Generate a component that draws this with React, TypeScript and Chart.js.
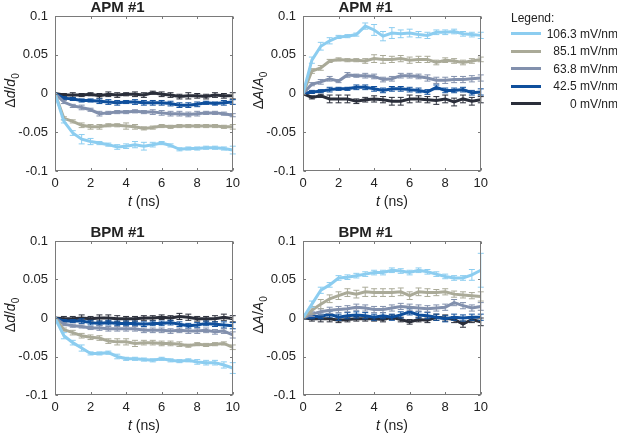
import React, { useEffect, useRef } from 'react';
import { Chart, registerables } from 'chart.js';

Chart.register(...registerables);

// ---------- data ----------
const timeNs = [0, 0.5, 1, 1.5, 2, 2.5, 3, 3.5, 4, 4.5, 5, 5.5, 6, 6.5, 7, 7.5, 8, 8.5, 9, 9.5, 10];

const seriesLabels = ['106.3 mV/nm', '85.1 mV/nm', '63.8 mV/nm', '42.5 mV/nm', '0 mV/nm'];
const seriesColors = ['#8ccdf0', '#aaaa98', '#8290ad', '#0f4f9c', '#2a2e3a'];

const xTicks = [0, 2, 4, 6, 8, 10];
const xTickLabels = ['0', '2', '4', '6', '8', '10'];
const yTicks = [-0.1, -0.05, 0, 0.05, 0.1];
const yTickLabels = ['-0.1', '-0.05', '0', '0.05', '0.1'];

const panelTitles = ['APM #1', 'APM #1', 'BPM #1', 'BPM #1'];

// APM #1, Δd/d0
const apmD106 = [0, -0.036, -0.051, -0.059, -0.062, -0.064, -0.066, -0.069, -0.068, -0.066, -0.068, -0.066, -0.064, -0.067, -0.072, -0.071, -0.071, -0.070, -0.070, -0.071, -0.073];
const apmD85 = [0, -0.032, -0.036, -0.041, -0.043, -0.043, -0.041, -0.041, -0.042, -0.043, -0.045, -0.044, -0.042, -0.043, -0.042, -0.042, -0.042, -0.042, -0.042, -0.043, -0.043];
const apmD64 = [0, -0.011, -0.016, -0.018, -0.021, -0.026, -0.025, -0.024, -0.024, -0.023, -0.024, -0.024, -0.025, -0.026, -0.026, -0.027, -0.026, -0.025, -0.025, -0.026, -0.028];
const apmD42 = [0, -0.006, -0.007, -0.009, -0.009, -0.010, -0.011, -0.012, -0.011, -0.011, -0.012, -0.012, -0.012, -0.013, -0.015, -0.015, -0.014, -0.012, -0.013, -0.012, -0.011];
const apmD0 = [0, -0.002, -0.002, -0.002, -0.001, -0.003, -0.001, -0.002, -0.001, -0.001, -0.002, 0.001, -0.001, -0.002, -0.004, -0.003, -0.003, -0.004, -0.002, -0.003, -0.003];

const apmDErr106 = [0, 0.002, 0.003, 0.006, 0.004, 0.002, 0.002, 0.003, 0.003, 0.004, 0.005, 0.003, 0.002, 0.002, 0.002, 0.002, 0.002, 0.002, 0.002, 0.002, 0.005];
const apmDErr85 = [0, 0.002, 0.002, 0.003, 0.003, 0.003, 0.002, 0.002, 0.004, 0.003, 0.002, 0.002, 0.002, 0.002, 0.002, 0.002, 0.002, 0.002, 0.002, 0.002, 0.003];
const apmDErr64 = [0, 0.002, 0.002, 0.003, 0.002, 0.003, 0.002, 0.002, 0.002, 0.002, 0.002, 0.003, 0.003, 0.003, 0.003, 0.003, 0.003, 0.002, 0.002, 0.002, 0.002];
const apmDErr42 = [0, 0.002, 0.002, 0.002, 0.002, 0.003, 0.003, 0.003, 0.002, 0.003, 0.003, 0.003, 0.003, 0.003, 0.003, 0.003, 0.003, 0.002, 0.002, 0.003, 0.003];
const apmDErr0 = [0, 0.002, 0.003, 0.002, 0.002, 0.003, 0.003, 0.003, 0.002, 0.003, 0.003, 0.002, 0.003, 0.003, 0.003, 0.004, 0.003, 0.003, 0.003, 0.003, 0.004];

// APM #1, ΔA/A0
const apmA106 = [0, 0.043, 0.061, 0.068, 0.073, 0.074, 0.076, 0.087, 0.082, 0.074, 0.078, 0.077, 0.078, 0.076, 0.075, 0.079, 0.079, 0.080, 0.077, 0.076, 0.075];
const apmA85 = [0, 0.029, 0.033, 0.042, 0.044, 0.043, 0.043, 0.042, 0.045, 0.044, 0.044, 0.045, 0.043, 0.044, 0.044, 0.040, 0.043, 0.042, 0.040, 0.042, 0.044];
const apmA64 = [0, 0.012, 0.015, 0.019, 0.016, 0.024, 0.023, 0.023, 0.022, 0.018, 0.019, 0.023, 0.023, 0.022, 0.020, 0.017, 0.017, 0.018, 0.018, 0.019, 0.020];
const apmA42 = [0, 0.002, 0.003, 0.005, 0.006, 0.006, 0.008, 0.008, 0.006, 0.004, 0.006, 0.006, 0.005, 0.004, 0.002, 0.008, 0.004, 0.004, 0.005, 0.001, 0.002];
const apmA0 = [0, -0.005, -0.003, -0.007, -0.007, -0.007, -0.010, -0.008, -0.007, -0.008, -0.010, -0.010, -0.007, -0.007, -0.008, -0.009, -0.007, -0.011, -0.007, -0.010, -0.008];

const apmAErr106 = [0, 0.004, 0.005, 0.004, 0.002, 0.002, 0.002, 0.004, 0.007, 0.006, 0.007, 0.005, 0.005, 0.004, 0.004, 0.003, 0.003, 0.003, 0.003, 0.003, 0.004];
const apmAErr85 = [0, 0.003, 0.003, 0.002, 0.002, 0.002, 0.002, 0.003, 0.005, 0.005, 0.004, 0.004, 0.004, 0.004, 0.004, 0.003, 0.003, 0.003, 0.003, 0.003, 0.003];
const apmAErr64 = [0, 0.002, 0.003, 0.003, 0.002, 0.003, 0.002, 0.003, 0.003, 0.003, 0.003, 0.003, 0.003, 0.003, 0.004, 0.004, 0.004, 0.004, 0.004, 0.004, 0.004];
const apmAErr42 = [0, 0.002, 0.002, 0.003, 0.002, 0.002, 0.003, 0.003, 0.003, 0.003, 0.003, 0.003, 0.003, 0.003, 0.003, 0.003, 0.003, 0.003, 0.003, 0.003, 0.004];
const apmAErr0 = [0, 0.002, 0.002, 0.005, 0.005, 0.005, 0.003, 0.003, 0.004, 0.004, 0.005, 0.005, 0.005, 0.004, 0.004, 0.005, 0.005, 0.005, 0.005, 0.005, 0.004];

// BPM #1, Δd/d0
const bpmD106 = [0, -0.023, -0.032, -0.039, -0.046, -0.046, -0.045, -0.050, -0.053, -0.053, -0.054, -0.055, -0.053, -0.055, -0.056, -0.055, -0.057, -0.058, -0.058, -0.061, -0.065];
const bpmD85 = [0, -0.015, -0.019, -0.023, -0.025, -0.026, -0.030, -0.031, -0.031, -0.033, -0.032, -0.032, -0.033, -0.033, -0.034, -0.036, -0.034, -0.035, -0.034, -0.033, -0.038];
const bpmD64 = [0, -0.008, -0.010, -0.011, -0.013, -0.013, -0.014, -0.014, -0.014, -0.014, -0.016, -0.016, -0.016, -0.017, -0.016, -0.017, -0.017, -0.016, -0.018, -0.017, -0.022];
const bpmD42 = [0, -0.004, -0.004, -0.004, -0.006, -0.007, -0.006, -0.007, -0.007, -0.007, -0.008, -0.007, -0.007, -0.006, -0.008, -0.010, -0.009, -0.007, -0.008, -0.009, -0.010];
const bpmD0 = [0, -0.001, -0.001, 0, -0.001, 0, 0, -0.001, -0.001, -0.001, 0, 0, 0.001, 0, 0.002, 0.001, -0.001, -0.001, -0.001, 0.001, -0.001];

const bpmDErr106 = [0, 0.004, 0.003, 0.004, 0.002, 0.002, 0.002, 0.003, 0.002, 0.002, 0.002, 0.002, 0.002, 0.002, 0.002, 0.002, 0.003, 0.003, 0.003, 0.004, 0.007];
const bpmDErr85 = [0, 0.002, 0.003, 0.003, 0.003, 0.003, 0.003, 0.004, 0.004, 0.004, 0.003, 0.003, 0.003, 0.003, 0.003, 0.002, 0.002, 0.002, 0.002, 0.002, 0.003];
const bpmDErr64 = [0, 0.002, 0.002, 0.002, 0.002, 0.003, 0.003, 0.003, 0.003, 0.003, 0.003, 0.003, 0.003, 0.003, 0.003, 0.003, 0.003, 0.003, 0.003, 0.003, 0.004];
const bpmDErr42 = [0, 0.002, 0.002, 0.003, 0.003, 0.003, 0.003, 0.003, 0.003, 0.003, 0.003, 0.003, 0.003, 0.003, 0.003, 0.003, 0.003, 0.003, 0.003, 0.004, 0.004];
const bpmDErr0 = [0, 0.003, 0.003, 0.004, 0.003, 0.004, 0.004, 0.004, 0.003, 0.003, 0.003, 0.003, 0.003, 0.003, 0.004, 0.004, 0.003, 0.003, 0.004, 0.004, 0.004];

// BPM #1, ΔA/A0
const bpmA106 = [0, 0.018, 0.036, 0.043, 0.052, 0.053, 0.055, 0.057, 0.059, 0.059, 0.062, 0.061, 0.059, 0.062, 0.060, 0.057, 0.054, 0.052, 0.052, 0.056, 0.062];
const bpmA85 = [0, 0.010, 0.018, 0.025, 0.029, 0.033, 0.031, 0.034, 0.033, 0.033, 0.033, 0.034, 0.029, 0.034, 0.033, 0.033, 0.034, 0.031, 0.030, 0.029, 0.028];
const bpmA64 = [0, 0.005, 0.008, 0.010, 0.011, 0.012, 0.014, 0.013, 0.011, 0.011, 0.013, 0.015, 0.014, 0.013, 0.012, 0.013, 0.014, 0.020, 0.016, 0.013, 0.015];
const bpmA42 = [0, 0.002, 0.002, 0.005, 0.001, 0.003, 0.004, 0.003, 0.001, 0.003, 0.001, 0.004, 0.008, 0.004, 0.003, 0.001, -0.001, 0.001, 0, 0.001, 0.001];
const bpmA0 = [0, -0.001, -0.001, -0.001, -0.003, -0.002, -0.001, -0.001, -0.001, -0.002, 0.001, -0.002, -0.005, -0.002, -0.003, 0.001, 0, -0.002, -0.008, -0.002, -0.005];

const bpmAErr106 = [0, 0.004, 0.004, 0.003, 0.003, 0.003, 0.003, 0.003, 0.003, 0.003, 0.003, 0.003, 0.003, 0.003, 0.003, 0.003, 0.003, 0.003, 0.003, 0.007, 0.022];
const bpmAErr85 = [0, 0.005, 0.006, 0.005, 0.005, 0.005, 0.005, 0.006, 0.005, 0.005, 0.005, 0.005, 0.005, 0.005, 0.005, 0.004, 0.004, 0.004, 0.004, 0.004, 0.006];
const bpmAErr64 = [0, 0.003, 0.004, 0.004, 0.004, 0.004, 0.004, 0.004, 0.004, 0.004, 0.004, 0.004, 0.004, 0.004, 0.004, 0.004, 0.004, 0.004, 0.004, 0.004, 0.005];
const bpmAErr42 = [0, 0.003, 0.003, 0.004, 0.004, 0.004, 0.004, 0.004, 0.004, 0.004, 0.004, 0.004, 0.004, 0.004, 0.004, 0.004, 0.004, 0.004, 0.004, 0.004, 0.004];
const bpmAErr0 = [0, 0.003, 0.004, 0.004, 0.003, 0.003, 0.003, 0.003, 0.003, 0.003, 0.003, 0.003, 0.003, 0.003, 0.003, 0.004, 0.004, 0.004, 0.004, 0.004, 0.005];

// ---------- styling ----------
const FONT = "'Liberation Sans', Arial, Helvetica, sans-serif";
const TEXT_COLOR = '#222222';
const FRAME_COLOR = '#7a7a7a';

type Seg = { t: string; i?: boolean; sub?: boolean };
const yTitleD: Seg[] = [{ t: 'Δ' }, { t: 'd', i: true }, { t: '/' }, { t: 'd', i: true }, { t: '0', sub: true }];
const yTitleA: Seg[] = [{ t: 'Δ' }, { t: 'A', i: true }, { t: '/' }, { t: 'A', i: true }, { t: '0', sub: true }];
const xTitle: Seg[] = [{ t: 't', i: true }, { t: ' (ns)' }];

type PanelCfg = {
  title: string;
  yTitle: Seg[];
  values: number[][];
  errors: number[][];
  left: number;
  top: number;
  width: number;
  height: number;
};

const panels: PanelCfg[] = [
  { title: panelTitles[0], yTitle: yTitleD, values: [apmD106, apmD85, apmD64, apmD42, apmD0], errors: [apmDErr106, apmDErr85, apmDErr64, apmDErr42, apmDErr0], left: 0, top: 0, width: 245, height: 212 },
  { title: panelTitles[1], yTitle: yTitleA, values: [apmA106, apmA85, apmA64, apmA42, apmA0], errors: [apmAErr106, apmAErr85, apmAErr64, apmAErr42, apmAErr0], left: 248, top: 0, width: 245, height: 212 },
  { title: panelTitles[2], yTitle: yTitleD, values: [bpmD106, bpmD85, bpmD64, bpmD42, bpmD0], errors: [bpmDErr106, bpmDErr85, bpmDErr64, bpmDErr42, bpmDErr0], left: 0, top: 225, width: 245, height: 211 },
  { title: panelTitles[3], yTitle: yTitleA, values: [bpmA106, bpmA85, bpmA64, bpmA42, bpmA0], errors: [bpmAErr106, bpmAErr85, bpmAErr64, bpmAErr42, bpmAErr0], left: 248, top: 225, width: 245, height: 211 },
];

function segFont(s: Seg, size: number) {
  const sz = s.sub ? Math.round(size * 0.72) : size;
  return `${s.i ? 'italic ' : ''}${sz}px ${FONT}`;
}

function drawSegs(ctx: CanvasRenderingContext2D, segs: Seg[], size: number) {
  // draws centered horizontally around 0, baseline at 0
  let total = 0;
  const widths = segs.map((s) => {
    ctx.font = segFont(s, size);
    const w = ctx.measureText(s.t).width;
    total += w;
    return w;
  });
  let x = -total / 2;
  segs.forEach((s, k) => {
    ctx.font = segFont(s, size);
    ctx.fillText(s.t, x, s.sub ? size * 0.3 : 0);
    x += widths[k];
  });
}

const decorPlugin = {
  id: 'matlabDecor',
  afterDatasetDraw(chart: any, args: any) {
    const ds = chart.data.datasets[args.index];
    const errs: number[] | undefined = ds.errors;
    if (!errs) return;
    const ctx: CanvasRenderingContext2D = chart.ctx;
    const xs = chart.scales.x;
    const ys = chart.scales.y;
    ctx.save();
    ctx.strokeStyle = ds.borderColor;
    ctx.lineWidth = 1;
    ds.data.forEach((p: { x: number; y: number }, i: number) => {
      const e = errs[i];
      if (!e) return;
      const px = xs.getPixelForValue(p.x);
      const y1 = ys.getPixelForValue(p.y + e);
      const y2 = ys.getPixelForValue(p.y - e);
      ctx.beginPath();
      ctx.moveTo(px, y1);
      ctx.lineTo(px, y2);
      ctx.moveTo(px - 3, y1);
      ctx.lineTo(px + 3, y1);
      ctx.moveTo(px - 3, y2);
      ctx.lineTo(px + 3, y2);
      ctx.stroke();
    });
    ctx.restore();
  },
  afterDraw(chart: any) {
    const ctx: CanvasRenderingContext2D = chart.ctx;
    const a = chart.chartArea;
    const xs = chart.scales.x;
    const ys = chart.scales.y;
    const opts = chart.options.plugins.matlabDecor;
    ctx.save();
    // frame
    ctx.strokeStyle = FRAME_COLOR;
    ctx.lineWidth = 1;
    const l = Math.round(a.left) + 0.5;
    const r = Math.round(a.right) - 0.5;
    const t = Math.round(a.top) + 0.5;
    const b = Math.round(a.bottom) - 0.5;
    ctx.strokeRect(l, t, r - l, b - t);
    const tl = 2.5;
    ctx.beginPath();
    xTicks.forEach((v) => {
      const px = Math.round(xs.getPixelForValue(v)) + 0.5;
      ctx.moveTo(px, b);
      ctx.lineTo(px, b - tl);
      ctx.moveTo(px, t);
      ctx.lineTo(px, t + tl);
    });
    yTicks.forEach((v) => {
      const py = Math.round(ys.getPixelForValue(v)) + 0.5;
      ctx.moveTo(l, py);
      ctx.lineTo(l + tl, py);
      ctx.moveTo(r, py);
      ctx.lineTo(r - tl, py);
    });
    ctx.stroke();
    // axis titles
    ctx.fillStyle = TEXT_COLOR;
    ctx.textBaseline = 'alphabetic';
    ctx.textAlign = 'left';
    // x title
    ctx.save();
    ctx.translate((a.left + a.right) / 2, a.bottom + 35);
    drawSegs(ctx, xTitle, 14);
    ctx.restore();
    // y title
    ctx.save();
    ctx.translate(a.left - 40, (a.top + a.bottom) / 2 - 3);
    ctx.rotate(-Math.PI / 2);
    drawSegs(ctx, opts.yTitle, 14);
    ctx.restore();
    ctx.restore();
  },
};

function Panel({ cfg }: { cfg: PanelCfg }) {
  const ref = useRef<HTMLCanvasElement | null>(null);
  useEffect(() => {
    if (!ref.current) return;
    const datasets = cfg.values.map((vals, k) => ({
      label: seriesLabels[k],
      data: vals.map((v, i) => ({ x: timeNs[i], y: v })),
      errors: cfg.errors[k],
      borderColor: seriesColors[k],
      backgroundColor: seriesColors[k],
      borderWidth: 3,
      pointRadius: 0,
      tension: 0,
      fill: false,
    }));
    const chart = new Chart(ref.current, {
      type: 'line',
      data: { datasets: datasets as any },
      plugins: [decorPlugin as any],
      options: {
        animation: false,
        responsive: false,
        maintainAspectRatio: false,
        events: [],
        layout: { padding: { left: 0, right: 10, top: 0, bottom: 0 } },
        plugins: {
          legend: { display: false },
          tooltip: { enabled: false },
          title: {
            display: true,
            text: cfg.title,
            color: TEXT_COLOR,
            font: { family: FONT, size: 15, weight: 'bold', lineHeight: 1 },
            padding: { top: 0, bottom: 1 },
          },
          matlabDecor: { yTitle: cfg.yTitle },
        } as any,
        scales: {
          x: {
            type: 'linear',
            min: 0,
            max: 10,
            grid: { display: false, drawTicks: false },
            border: { display: false },
            afterBuildTicks: (s: any) => {
              s.ticks = xTicks.map((v) => ({ value: v }));
            },
            afterFit: (s: any) => {
              s.height = 41;
            },
            ticks: {
              padding: 5,
              color: TEXT_COLOR,
              font: { family: FONT, size: 13 },
              maxRotation: 0,
              autoSkip: false,
              callback: (v: any) => {
                const idx = xTicks.indexOf(Number(v));
                return idx >= 0 ? xTickLabels[idx] : '';
              },
            },
          },
          y: {
            type: 'linear',
            min: -0.1,
            max: 0.1,
            grid: { display: false, drawTicks: false },
            border: { display: false },
            afterBuildTicks: (s: any) => {
              s.ticks = yTicks.map((v) => ({ value: v }));
            },
            afterFit: (s: any) => {
              s.width = 55;
            },
            ticks: {
              padding: 7,
              color: TEXT_COLOR,
              font: { family: FONT, size: 13 },
              autoSkip: false,
              callback: (v: any) => {
                const idx = yTicks.findIndex((t) => Math.abs(t - Number(v)) < 1e-9);
                return idx >= 0 ? yTickLabels[idx] : '';
              },
            },
          },
        },
      } as any,
    });
    return () => chart.destroy();
  }, [cfg]);
  return (
    <canvas
      ref={ref}
      width={cfg.width}
      height={cfg.height}
      style={{ position: 'absolute', left: cfg.left, top: cfg.top, width: cfg.width, height: cfg.height }}
    />
  );
}

function Legend() {
  return (
    <div style={{ position: 'absolute', left: 0, top: 0, width: 617, height: 434, pointerEvents: 'none', fontFamily: FONT, color: TEXT_COLOR, fontSize: 12 }}>
      <div style={{ position: 'absolute', left: 511, top: 10, lineHeight: '16px' }}>Legend:</div>
      {seriesLabels.map((lab, k) => (
        <React.Fragment key={lab}>
          <div style={{ position: 'absolute', left: 511, top: 32 + k * 17.6, width: 30, height: 3, background: seriesColors[k] }} />
          <div style={{ position: 'absolute', right: -1, top: 25.5 + k * 17.6, lineHeight: '16px', whiteSpace: 'nowrap', textAlign: 'right' }}>{lab}</div>
        </React.Fragment>
      ))}
    </div>
  );
}

export default function App() {
  useEffect(() => {
    document.body.style.margin = '0';
    document.body.style.background = '#ffffff';
  }, []);
  return (
    <div style={{ position: 'relative', width: 617, height: 434, overflow: 'hidden', background: '#ffffff' }}>
      {panels.map((p, i) => (
        <Panel key={i} cfg={p} />
      ))}
      <Legend />
    </div>
  );
}
